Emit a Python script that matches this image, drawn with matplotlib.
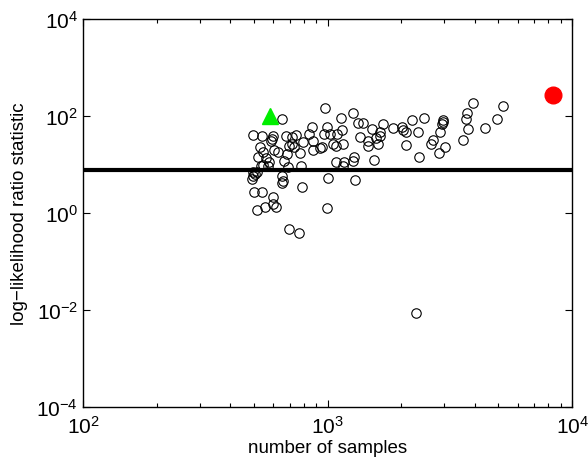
import numpy as np
import matplotlib
matplotlib.use("Agg")
import matplotlib.pyplot as plt
from matplotlib.ticker import LogLocator, NullLocator, NullFormatter

plt.rcParams['font.family'] = ['Liberation Sans', 'DejaVu Sans']
plt.rcParams['mathtext.fontset'] = 'custom'
plt.rcParams['mathtext.rm'] = 'Liberation Sans'
plt.rcParams['mathtext.it'] = 'Liberation Sans'

# number of samples for each test (open circles)
samples = [650, 977, 1275, 1136, 1329, 862, 993, 1143, 497, 538,
           597, 591, 586, 677, 714, 743, 840, 968, 1024, 1090,
           792, 875, 716, 729, 698, 530, 1056, 1083, 1160, 932,
           870, 1358, 546, 604, 629, 685, 772, 521, 560, 664,
           578, 546, 573, 533, 691, 777, 1083, 1168, 1160, 1283,
           1275, 496, 505, 515, 494, 490, 650, 658, 653, 784,
           1002, 1296, 500, 541, 597, 600, 614, 513, 555, 997,
           698, 762, 1401, 1691, 1525, 1858, 2012, 2042, 2095, 2211,
           2489, 2976, 2960, 2950, 2338, 2884, 1639, 1579, 1469, 1460,
           1614, 2088, 2708, 2650, 2866, 3024, 2374, 1550, 947, 3948,
           5236, 3731, 3686, 3745, 3573, 4409, 4920, 2301, 1639]

# log-likelihood ratio statistic for each test
llr = [87, 146, 119, 91, 74, 60, 58.5, 52.2, 41.2, 39.3,
       39.3, 33.6, 30.1, 38.1, 36.4, 40.6, 42.6, 42.6, 42.6, 42.6,
       29.5, 30.5, 26.5, 22.6, 24.4, 22.6, 26.5, 24.4, 26.5, 21.6,
       20.2, 36.4, 18.4, 19.9, 18.4, 16.5, 17.8, 14.1, 13.4, 12.0,
       11.1, 9.77, 9.18, 9.18, 8.75, 9.18, 11.1, 11.4, 9.45, 14.1,
       12.0, 7.0, 6.37, 7.0, 5.87, 5.02, 5.71, 4.63, 4.16, 3.39,
       5.19, 4.79, 2.67, 2.67, 2.17, 1.53, 1.31, 1.17, 1.31, 1.27,
       0.468, 0.393, 70.7, 68.4, 54, 56.6, 60, 52.2, 47.5, 83.9,
       91, 83.9, 76.3, 68.4, 47.5, 46.1, 46.1, 34.7, 31.0, 24.4,
       26.5, 25.6, 32.0, 26.5, 17.8, 22.6, 14.5, 12.4, 22.6, 183,
       163, 119, 86.7, 54, 32.0, 55.8, 86.7, 0.00855, 38.7]

# highlighted tests
green_x, green_y = [582], [100]
red_x, red_y = [8360], [271]
threshold = 7.7

fig = plt.figure(figsize=(5.88, 4.6), dpi=100)
ax = fig.add_axes([0.141, 0.113, 0.832, 0.843])

ax.plot(samples, llr, 'o', mfc='none', mec='black', ms=6.8, mew=0.8)
ax.axhline(threshold, color='black', lw=3)
ax.plot(green_x, green_y, '^', color='#00ee00', ms=12, mec='#00ee00')
ax.plot(red_x, red_y, 'o', color='red', ms=12, mec='red')

ax.set_xscale('log')
ax.set_yscale('log')
ax.set_xlim(1e2, 1e4)
ax.set_ylim(1e-4, 1e4)

ax.xaxis.set_major_locator(LogLocator(base=10, numticks=10))
ax.xaxis.set_minor_locator(LogLocator(base=10, subs=np.arange(2, 10), numticks=20))
ax.xaxis.set_minor_formatter(NullFormatter())
ax.set_yticks([1e-4, 1e-2, 1e0, 1e2, 1e4])
ax.yaxis.set_minor_locator(NullLocator())

ax.tick_params(which='both', direction='in', top=True, right=True,
               labelsize=15, width=0.8)
ax.tick_params(which='major', length=5)
ax.tick_params(which='minor', length=3)
ax.tick_params(axis='x', pad=6)
for sp in ax.spines.values():
    sp.set_linewidth(1.0)

ax.set_xlabel('number of samples', fontsize=13.5, labelpad=1)
ax.set_ylabel('log\u2212likelihood ratio statistic', fontsize=13.5, labelpad=6)

fig.savefig('out.png', dpi=100)
